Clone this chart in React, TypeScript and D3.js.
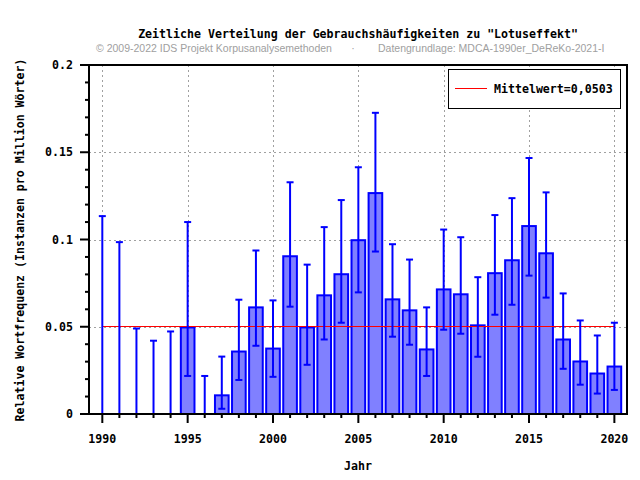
import React from "react";
import * as d3 from "d3";

const years = [1990,1991,1992,1993,1994,1995,1996,1997,1998,1999,2000,2001,2002,2003,2004,2005,2006,2007,2008,2009,2010,2011,2012,2013,2014,2015,2016,2017,2018,2019,2020];
const values = [0,0,0,0,0,0.0496,0,0.0107,0.0358,0.0611,0.0375,0.0904,0.0496,0.068,0.0801,0.0996,0.1266,0.0657,0.0594,0.037,0.0714,0.0686,0.0508,0.0807,0.0881,0.1077,0.0921,0.0427,0.0301,0.0232,0.0272];
const errHigh = [0.1134,0.0985,0.049,0.042,0.0473,0.110,0.0218,0.0329,0.0655,0.0937,0.0651,0.1328,0.0856,0.1071,0.1226,0.1414,0.1726,0.0973,0.0885,0.0611,0.1057,0.1013,0.0784,0.114,0.1237,0.1467,0.127,0.0691,0.0536,0.045,0.0523];
const errLow = [0,0,0,0,0,0.0218,0,0.003,0.0195,0.0391,0.0213,0.0615,0.0282,0.0427,0.0523,0.0697,0.0931,0.0443,0.0397,0.0218,0.0483,0.046,0.0328,0.0569,0.0626,0.0793,0.0667,0.0259,0.0168,0.0117,0.0138];
const meanValue = 0.0503;
const yMajor = [0, 0.05, 0.1, 0.15, 0.2];
const yTickLabels = ["0", "0.05", "0.1", "0.15", "0.2"];
const xMajor = [1990, 1995, 2000, 2005, 2010, 2015, 2020];

const title = "Zeitliche Verteilung der Gebrauchshäufigkeiten zu \"Lotuseffekt\"";
const sub1 = "© 2009-2022 IDS Projekt Korpusanalysemethoden";
const sub2 = "Datengrundlage: MDCA-1990er_DeReKo-2021-I";
const yLabel = "Relative Wortfrequenz (Instanzen pro Million Wörter)";
const xLabel = "Jahr";
const legendLabel = "Mittelwert=0,0503";

const L = 89, R = 627, T = 65, B = 414;
const mono = "'DejaVu Sans Mono', monospace";
const sans = "'Liberation Sans', Arial, sans-serif";

export default function App() {
  const x = d3.scaleLinear().domain([1989.22, 2020.74]).range([L, R]);
  const y = d3.scaleLinear().domain([0, 0.2]).range([B, T]);
  const yMinor = d3.range(0, 0.2001, 0.01);
  const xMinor = d3.range(1990, 2021, 1);
  const bw = x(1990.4) - x(1989.6);
  const capW = 3.5;
  const crisp = (v: number) => Math.round(v) + 0.5;

  return (
    <svg width={640} height={480} style={{ position: "absolute", left: 0, top: 0, background: "#fff" }}>
      <rect x={0} y={0} width={640} height={480} fill="#fff" />
      {/* grid */}
      {xMajor.map((v) => (
        <line key={"gx" + v} x1={crisp(x(v))} x2={crisp(x(v))} y1={T} y2={B} stroke="#a0a0a0" strokeDasharray="2,3" strokeWidth={1} />
      ))}
      {yMajor.slice(1, 4).map((v) => (
        <line key={"gy" + v} x1={L} x2={R} y1={crisp(y(v))} y2={crisp(y(v))} stroke="#a0a0a0" strokeDasharray="2,3" strokeWidth={1} />
      ))}
      {/* bars */}
      {years.map((yr, i) =>
        values[i] > 0 ? (
          <rect key={"b" + yr} x={x(yr) - bw / 2} y={y(values[i])} width={bw} height={y(0) - y(values[i])}
            fill="#8080ff" stroke="#0000ff" strokeWidth={2} />
        ) : null
      )}
      {/* mean line */}
      <line x1={x(1990)} x2={x(2020)} y1={crisp(y(meanValue))} y2={crisp(y(meanValue))} stroke="#ff0000" strokeWidth={1} />
      {/* error bars */}
      {years.map((yr, i) => (
        <g key={"e" + yr} stroke="#0000ff" strokeWidth={2}>
          <line x1={x(yr)} x2={x(yr)} y1={y(errLow[i])} y2={y(errHigh[i])} />
          <line x1={x(yr) - capW} x2={x(yr) + capW} y1={y(errHigh[i])} y2={y(errHigh[i])} />
          <line x1={x(yr) - capW} x2={x(yr) + capW} y1={y(errLow[i])} y2={y(errLow[i])} />
        </g>
      ))}
      {/* frame */}
      <rect x={L} y={T} width={R - L} height={B - T} fill="none" stroke="#000" strokeWidth={2} />
      {/* y ticks */}
      {yMinor.map((v, i) => (
        <line key={"ym" + i} x1={L - (i % 5 === 0 ? 9 : 4)} x2={L} y1={y(v)} y2={y(v)} stroke="#000" strokeWidth={2} />
      ))}
      {yMajor.map((v, i) => (
        <text key={"yl" + v} x={73} y={y(v) + 4} textAnchor="end" fontFamily={mono} fontWeight="bold" fontSize={11.6} fill="#000">
          {yTickLabels[i]}
        </text>
      ))}
      {/* x ticks */}
      {xMinor.map((v) => (
        <line key={"xm" + v} x1={x(v)} x2={x(v)} y1={B} y2={B + (v % 5 === 0 ? 9 : 4)} stroke="#000" strokeWidth={2} />
      ))}
      {xMajor.map((v) => (
        <text key={"xl" + v} x={x(v)} y={443} textAnchor="middle" fontFamily={mono} fontWeight="bold" fontSize={11.6} fill="#000">
          {v}
        </text>
      ))}
      {/* axis labels */}
      <text x={358} y={470} textAnchor="middle" fontFamily={mono} fontWeight="bold" fontSize={11.6} fill="#000">{xLabel}</text>
      <text transform="translate(24,240) rotate(-90)" textAnchor="middle" fontFamily={mono} fontWeight="bold" fontSize={11.6} fill="#000">{yLabel}</text>
      {/* title */}
      <text x={358} y={38} textAnchor="middle" fontFamily={mono} fontWeight="bold" fontSize={11.6} fill="#000">{title}</text>
      <text x={96} y={52} fontFamily={sans} fontSize={10.5} fill="#a0a0a0">{sub1}</text>
      <text x={353} y={52} textAnchor="middle" fontFamily={sans} fontSize={10.5} fill="#a0a0a0">·</text>
      <text x={378} y={52} fontFamily={sans} fontSize={10.5} fill="#a0a0a0">{sub2}</text>
      {/* legend */}
      <rect x={448.5} y={69.5} width={172} height={39} fill="#fff" stroke="#000" strokeWidth={1} />
      <line x1={455} x2={487} y1={88.5} y2={88.5} stroke="#ff0000" strokeWidth={1} />
      <text x={494} y={92.5} fontFamily={mono} fontWeight="bold" fontSize={11.6} fill="#000">{legendLabel}</text>
    </svg>
  );
}
